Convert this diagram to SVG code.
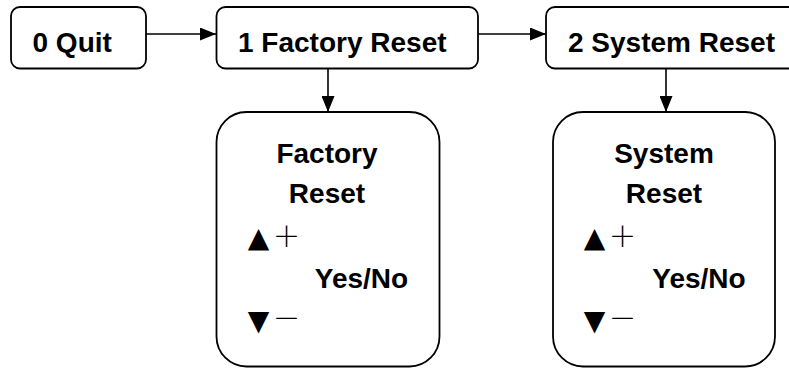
<svg xmlns="http://www.w3.org/2000/svg" width="789" height="369" viewBox="0 0 789 369">
<style>
.box{fill:#fff;stroke:#000;stroke-width:1.8}
.t{font-family:"Liberation Sans",Arial,sans-serif;font-weight:bold;font-size:28px;fill:#000}
.s{font-family:"DejaVu Sans",sans-serif;font-size:28px;fill:#000}
.p{font-family:"Noto Sans CJK SC",sans-serif;font-weight:300;font-size:28px;fill:#000}
.c{stroke:#000;stroke-width:1.6;fill:none}
</style>
<defs>
<marker id="ah" viewBox="0 0 16 13" refX="16" refY="6.5" markerWidth="16" markerHeight="13" markerUnits="userSpaceOnUse" orient="auto">
<path d="M0,0 L16,6.5 L0,13 Z" fill="#000"/>
</marker>
</defs>
<g id="connectors">
<line class="c" x1="146" y1="34" x2="216" y2="34" marker-end="url(#ah)"/>
<line class="c" x1="478" y1="34" x2="546" y2="34" marker-end="url(#ah)"/>
<line class="c" x1="328" y1="68.5" x2="328" y2="112" marker-end="url(#ah)"/>
<line class="c" x1="666" y1="68.5" x2="666" y2="112" marker-end="url(#ah)"/>
</g>
<g id="n0">
<rect class="box" x="11" y="7" width="135" height="61.5" rx="9"/>
<text class="t" x="32.5" y="51.5">0 Quit</text>
</g>
<g id="n1">
<rect class="box" x="216.5" y="7" width="261.5" height="61.5" rx="9"/>
<text class="t" x="238" y="51.5">1 Factory Reset</text>
</g>
<g id="n2">
<rect class="box" x="546" y="7" width="262" height="61.5" rx="9"/>
<text class="t" x="568" y="51.5">2 System Reset</text>
</g>
<g id="n3">
<rect class="box" x="216.5" y="112" width="223" height="254.5" rx="30"/>
<text class="t" x="327" y="163" text-anchor="middle">Factory</text>
<text class="t" x="327" y="203" text-anchor="middle">Reset</text>
<text class="s" x="258.5" y="246.5" text-anchor="middle">▲</text>
<text class="p" x="286.5" y="246.5" text-anchor="middle">＋</text>
<text class="t" x="361.5" y="288" text-anchor="middle">Yes/No</text>
<text class="s" x="258.5" y="329.5" text-anchor="middle">▼</text>
<text class="p" x="286.5" y="328.5" text-anchor="middle">－</text>
</g>
<g id="n4">
<rect class="box" x="553" y="112" width="222" height="254.5" rx="30"/>
<text class="t" x="664" y="163" text-anchor="middle">System</text>
<text class="t" x="664" y="203" text-anchor="middle">Reset</text>
<text class="s" x="594.5" y="246.5" text-anchor="middle">▲</text>
<text class="p" x="622.5" y="246.5" text-anchor="middle">＋</text>
<text class="t" x="699" y="288" text-anchor="middle">Yes/No</text>
<text class="s" x="594.5" y="329.5" text-anchor="middle">▼</text>
<text class="p" x="622.5" y="328.5" text-anchor="middle">－</text>
</g>
</svg>
